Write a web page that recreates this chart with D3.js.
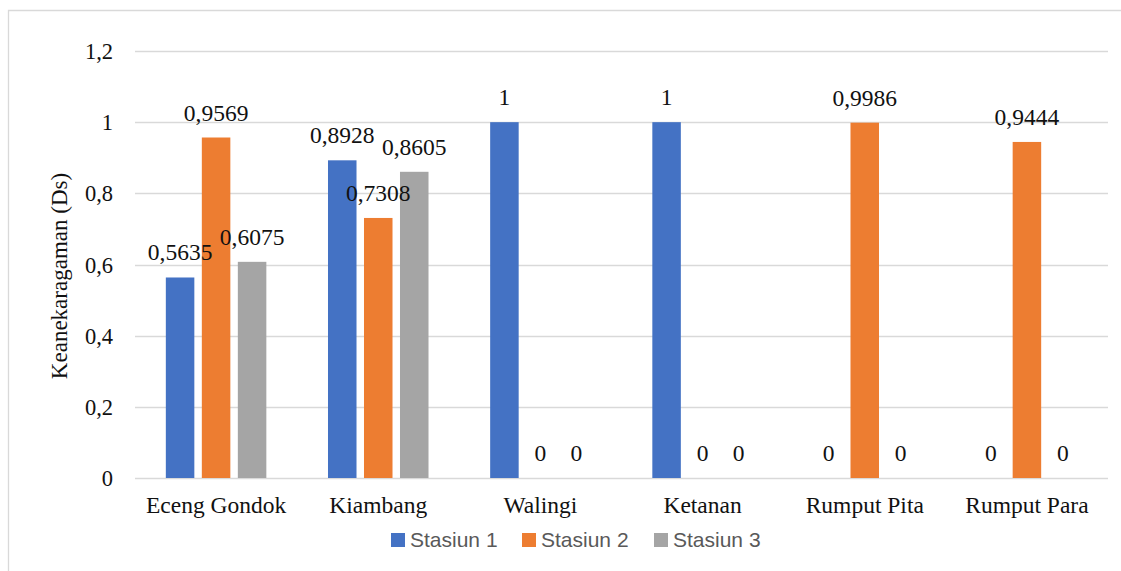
<!DOCTYPE html>
<html>
<head>
<meta charset="utf-8">
<script src="https://cdn.jsdelivr.net/npm/d3@7"></script>
<style>
  html, body { margin: 0; padding: 0; background: #fff; }
  svg { display: block; }
</style>
</head>
<body>
<svg id="chart" width="1121" height="571"></svg>
<script>
const categories = ["Eceng Gondok", "Kiambang", "Walingi", "Ketanan", "Rumput Pita", "Rumput Para"];
const seriesNames = ["Stasiun 1", "Stasiun 2", "Stasiun 3"];
const stasiun1 = [0.5635, 0.8928, 1, 1, 0, 0];
const stasiun2 = [0.9569, 0.7308, 0, 0, 0.9986, 0.9444];
const stasiun3 = [0.6075, 0.8605, 0, 0, 0, 0];
const labels1 = ["0,5635", "0,8928", "1", "1", "0", "0"];
const labels2 = ["0,9569", "0,7308", "0", "0", "0,9986", "0,9444"];
const labels3 = ["0,6075", "0,8605", "0", "0", "0", "0"];
const yTicks = [0, 0.2, 0.4, 0.6, 0.8, 1, 1.2];
const yTickLabels = ["0", "0,2", "0,4", "0,6", "0,8", "1", "1,2"];
const colors = ["#4472C4", "#ED7D31", "#A5A5A5"];
const yTitle = "Keanekaragaman (Ds)";

const seriesValues = [stasiun1, stasiun2, stasiun3];
const seriesLabels = [labels1, labels2, labels3];

const svg = d3.select("#chart");
const serif = "'Liberation Serif', 'Times New Roman', serif";
const sans = "'Liberation Sans', Arial, sans-serif";

// chart area border (cropped)
svg.append("path")
  .attr("d", "M8.5,571 L8.5,10.5 L1121,10.5")
  .attr("fill", "none").attr("stroke", "#d9d9d9").attr("stroke-width", 1.3);

const plotLeft = 135, plotRight = 1108, plotTop = 51, plotBottom = 478;

const x0 = d3.scaleBand().domain(categories).range([plotLeft, plotRight]).paddingInner(0).paddingOuter(0);
const bw = x0.bandwidth();
const x1 = d3.scaleBand().domain(seriesNames)
  .range([bw / 2 - 54, bw / 2 + 54]).paddingInner(0.208).paddingOuter(0.104);
const y = d3.scaleLinear().domain([0, 1.2]).range([plotBottom, plotTop]);

// gridlines
svg.append("g").selectAll("line").data(yTicks).join("line")
  .attr("x1", plotLeft).attr("x2", plotRight)
  .attr("y1", d => Math.round(y(d)) + 0.5).attr("y2", d => Math.round(y(d)) + 0.5)
  .attr("stroke", "#d9d9d9").attr("stroke-width", 1.4);

// y axis labels
const yAxis = d3.axisLeft(y).tickValues(yTicks).tickSize(0).tickPadding(0)
  .tickFormat((d, i) => yTickLabels[i]);
const gy = svg.append("g").attr("transform", "translate(113,0)").call(yAxis);
gy.select(".domain").remove();
gy.selectAll("text").attr("font-family", serif).attr("font-size", 22.5).attr("fill", "#111")
  .attr("dy", "0.34em");

// x axis labels
const xAxis = d3.axisBottom(x0).tickSize(0).tickPadding(0);
const gx = svg.append("g").attr("transform", "translate(0,513)").call(xAxis);
gx.select(".domain").remove();
gx.selectAll("text").attr("font-family", serif).attr("font-size", 23.5).attr("fill", "#111")
  .attr("dy", 0).attr("y", 0);

// bars
const groups = svg.append("g").selectAll("g").data(categories).join("g")
  .attr("transform", d => `translate(${x0(d)},0)`);

seriesNames.forEach((s, si) => {
  groups.append("rect")
    .attr("x", (d, i) => x1(s))
    .attr("width", x1.bandwidth())
    .attr("y", (d, i) => y(seriesValues[si][i]))
    .attr("height", (d, i) => y(0) - y(seriesValues[si][i]))
    .attr("fill", colors[si]);
});
seriesNames.forEach((s, si) => {
  groups.append("text")
    .attr("x", (d, i) => x1(s) + x1.bandwidth() / 2)
    .attr("y", (d, i) => y(seriesValues[si][i]) - 17)
    .attr("text-anchor", "middle")
    .attr("font-family", serif).attr("font-size", 23.5).attr("fill", "#111")
    .text((d, i) => seriesLabels[si][i]);
});

// y title
svg.append("text")
  .attr("transform", "translate(67,276) rotate(-90)")
  .attr("text-anchor", "middle")
  .attr("font-family", serif).attr("font-size", 23).attr("fill", "#111")
  .text(yTitle);

// legend
const legendX = [391, 522, 654];
const lg = svg.append("g").selectAll("g").data(seriesNames).join("g")
  .attr("transform", (d, i) => `translate(${legendX[i]},533)`);
lg.append("rect").attr("width", 14).attr("height", 14).attr("fill", (d, i) => colors[i]);
lg.append("text").attr("x", 19).attr("y", 14)
  .attr("font-family", sans).attr("font-size", 21).attr("fill", "#595959")
  .text(d => d);
</script>
</body>
</html>
